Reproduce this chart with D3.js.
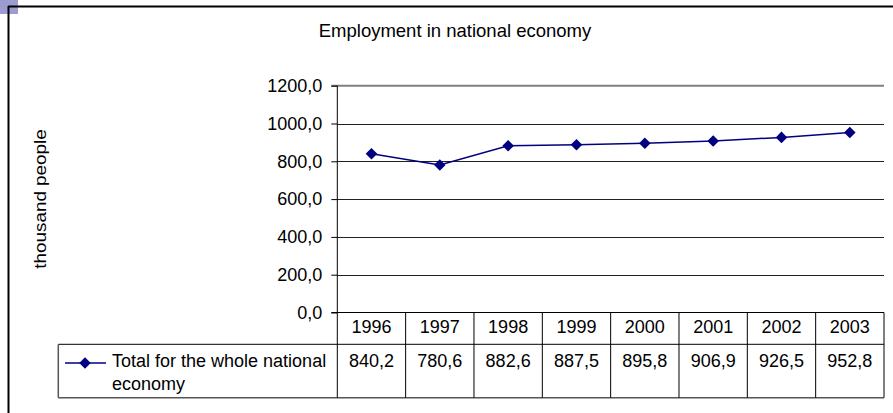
<!DOCTYPE html>
<html>
<head>
<meta charset="utf-8">
<script src="https://cdn.jsdelivr.net/npm/d3@7"></script>
<style>
  html, body { margin: 0; padding: 0; background: #fff; }
  svg { display: block; }
  text { font-family: "Liberation Sans", Arial, sans-serif; fill: #000; }
</style>
</head>
<body>
<svg id="chart" width="893" height="413"></svg>
<script>
// Employment in national economy, thousand people
const years = ["1996", "1997", "1998", "1999", "2000", "2001", "2002", "2003"];
const totalEmployment = [840.2, 780.6, 882.6, 887.5, 895.8, 906.9, 926.5, 952.8];
const yTicks = [0, 200, 400, 600, 800, 1000, 1200];
const seriesName = ["Total for the whole national", "economy"];
const chartTitle = "Employment in national economy";
const yAxisTitle = "thousand people";

const fmt = v => d3.format(".1f")(v).replace(".", ",");

const svg = d3.select("#chart");
const FS = 18;

// frame decoration
svg.append("rect").attr("x", 0).attr("y", 0).attr("width", 18).attr("height", 14).attr("fill", "#9c9cd2");
svg.append("line").attr("x1", 8).attr("x2", 893).attr("y1", 6.5).attr("y2", 6.5).attr("stroke", "#000").attr("stroke-width", 2);
svg.append("line").attr("x1", 8.5).attr("x2", 8.5).attr("y1", 6).attr("y2", 413).attr("stroke", "#000").attr("stroke-width", 2);

const plotLeft = 337.3, plotRight = 884, plotTop = 85.7, plotBottom = 312.5;

const x = d3.scaleBand().domain(years).range([plotLeft, plotRight]);
const y = d3.scaleLinear().domain([0, 1200]).range([plotBottom, plotTop]);

// gridlines
svg.append("g")
  .selectAll("line")
  .data(yTicks.filter(t => t > 0 && t < 1200))
  .join("line")
  .attr("x1", plotLeft).attr("x2", plotRight)
  .attr("y1", d => Math.round(y(d)) + 0.5).attr("y2", d => Math.round(y(d)) + 0.5)
  .attr("stroke", "#222").attr("stroke-width", 1);

// top plot border
svg.append("line")
  .attr("x1", plotLeft - 6).attr("x2", plotRight)
  .attr("y1", y(1200)).attr("y2", y(1200))
  .attr("stroke", "#808080").attr("stroke-width", 2);

// y axis
const yAxis = d3.axisLeft(y).tickValues(yTicks).tickSize(6).tickPadding(9).tickFormat(fmt);
const gy = svg.append("g").attr("transform", `translate(${plotLeft},0)`).call(yAxis);
gy.select(".domain").attr("stroke", "#000").attr("d", `M0,${plotTop}V${plotBottom}`);
gy.selectAll(".tick line").attr("stroke", "#000");
gy.selectAll(".tick text").attr("font-size", FS).attr("font-family", "Liberation Sans, Arial, sans-serif").attr("fill", "#000");
gy.attr("font-size", null);

// data table under the plot
const rowTop = plotBottom, rowMid = 344.3, rowBottom = 397.7, legendLeft = 58.3;
const tbl = svg.append("g").attr("stroke", "#000").attr("stroke-width", 1);
tbl.append("line").attr("x1", plotLeft - 6).attr("x2", plotRight).attr("y1", rowTop).attr("y2", rowTop);
tbl.append("line").attr("x1", legendLeft).attr("x2", plotRight).attr("y1", rowMid).attr("y2", rowMid);
tbl.append("line").attr("x1", legendLeft).attr("x2", plotRight).attr("y1", rowBottom).attr("y2", rowBottom).attr("stroke", "#555").attr("stroke-width", 1.5);
tbl.append("line").attr("x1", legendLeft).attr("x2", legendLeft).attr("y1", rowMid).attr("y2", rowBottom).attr("stroke", "#555").attr("stroke-width", 1.5);
tbl.selectAll("line.col")
  .data(years.map(d => x(d)).concat([plotRight]))
  .join("line").attr("class", "col")
  .attr("x1", d => d).attr("x2", d => d)
  .attr("y1", rowTop).attr("y2", rowBottom);

svg.append("g").selectAll("text")
  .data(years).join("text")
  .attr("x", d => x(d) + x.bandwidth() / 2).attr("y", 333)
  .attr("text-anchor", "middle").attr("font-size", FS).text(d => d);

svg.append("g").selectAll("text")
  .data(totalEmployment).join("text")
  .attr("x", (d, i) => x(years[i]) + x.bandwidth() / 2).attr("y", 367)
  .attr("text-anchor", "middle").attr("font-size", FS).text(d => fmt(d));

// legend key
const navy = "#000080";
svg.append("line").attr("x1", 65).attr("x2", 106).attr("y1", 363).attr("y2", 363).attr("stroke", navy).attr("stroke-width", 1.5);
const diamond = d3.symbol().type(d3.symbolDiamond2).size(85);
svg.append("path").attr("d", diamond()).attr("transform", "translate(85,363)").attr("fill", navy);
svg.append("g").selectAll("text")
  .data(seriesName).join("text")
  .attr("x", 112).attr("y", (d, i) => 367 + i * 22.5)
  .attr("font-size", FS).text(d => d);

// series line and markers
const line = d3.line().x((d, i) => x(years[i]) + x.bandwidth() / 2).y(d => y(d));
svg.append("path").datum(totalEmployment).attr("d", line)
  .attr("fill", "none").attr("stroke", navy).attr("stroke-width", 1.5);
svg.append("g").selectAll("path")
  .data(totalEmployment).join("path")
  .attr("d", diamond())
  .attr("transform", (d, i) => `translate(${x(years[i]) + x.bandwidth() / 2},${y(d)})`)
  .attr("fill", navy);

// titles
svg.append("text").attr("x", 455).attr("y", 37).attr("text-anchor", "middle").attr("font-size", 18.5).text(chartTitle);
svg.append("text").attr("transform", "translate(45.5,199) rotate(-90) scale(1.11,1)").attr("text-anchor", "middle").attr("font-size", 17).text(yAxisTitle);
</script>
</body>
</html>
